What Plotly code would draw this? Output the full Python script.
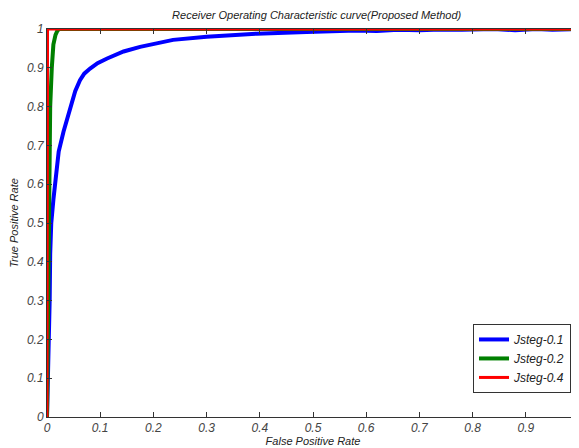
import plotly.graph_objects as go

# Jsteg-0.1 ROC (blue)
fpr_01 = [0.0, 0.002, 0.003, 0.005, 0.006, 0.008, 0.012, 0.016, 0.022, 0.031, 0.044,
          0.053, 0.062, 0.07, 0.081, 0.095, 0.113, 0.144, 0.175, 0.213, 0.237, 0.30, 0.394, 0.488,
          0.582, 0.62, 0.66, 0.70, 0.74, 0.78, 0.84, 0.88, 0.92, 0.95, 1.0]
tpr_01 = [0.0, 0.10, 0.17, 0.30, 0.42, 0.50, 0.56, 0.61, 0.684, 0.735, 0.796,
          0.84, 0.868, 0.885, 0.898, 0.912, 0.924, 0.942, 0.954, 0.965, 0.972, 0.980, 0.988, 0.992,
          0.996, 0.995, 0.998, 0.997, 0.999, 0.998, 1.0, 0.997, 1.0, 0.998, 1.0]

# Jsteg-0.2 ROC (green)
fpr_02 = [0.0, 0.002, 0.003, 0.004, 0.005, 0.006, 0.009, 0.012, 0.016, 0.020, 0.024, 1.0]
tpr_02 = [0.0, 0.30, 0.50, 0.62, 0.70, 0.80, 0.90, 0.96, 0.985, 0.997, 1.0, 1.0]

# Jsteg-0.4 ROC (red)
fpr_04 = [0.0, 0.0005, 0.001, 1.0]
tpr_04 = [0.0, 0.90, 1.0, 1.0]

tick_vals = [0, 0.1, 0.2, 0.3, 0.4, 0.5, 0.6, 0.7, 0.8, 0.9, 1]
tick_text = ["0", "0.1", "0.2", "0.3", "0.4", "0.5", "0.6", "0.7", "0.8", "0.9", "1"]

font_fam = "Liberation Sans, Arial, sans-serif"

fig = go.Figure()
fig.add_trace(go.Scatter(x=fpr_01, y=tpr_01, mode="lines", name="Jsteg-0.1",
                         line=dict(color="#0000ff", width=4)))
fig.add_trace(go.Scatter(x=fpr_02, y=tpr_02, mode="lines", name="Jsteg-0.2",
                         line=dict(color="#008000", width=4)))
fig.add_trace(go.Scatter(x=fpr_04, y=tpr_04, mode="lines", name="Jsteg-0.4",
                         line=dict(color="#ff0000", width=3)))

axis_common = dict(
    range=[0, 1], tickvals=tick_vals, ticktext=tick_text,
    ticks="inside", ticklen=5, tickcolor="#333333", tickwidth=1,
    showline=True, linecolor="#333333", linewidth=1, mirror="ticks",
    showgrid=False, zeroline=False, automargin=False,
    tickfont=dict(family=font_fam, size=12, color="#444444", style="italic"),
)

fig.update_layout(
    template="none",
    width=571, height=440,
    margin=dict(l=39, r=0, t=21, b=31),
    paper_bgcolor="white", plot_bgcolor="white",
    title=dict(text="Receiver Operating Characteristic curve(Proposed Method)",
               x=0.5406, xanchor="center", y=0.992, yanchor="top",
               font=dict(family=font_fam, size=11, color="#222222", style="italic")),
    xaxis=dict(**axis_common,
               title=dict(text="False Positive Rate", standoff=2,
                          font=dict(family=font_fam, size=11, color="#222222", style="italic"))),
    yaxis=dict(**axis_common,
               title=dict(text="True Positive Rate", standoff=6,
                          font=dict(family=font_fam, size=11, color="#222222", style="italic"))),
    legend=dict(x=0.985, xanchor="right", y=0.062, yanchor="bottom",
                bgcolor="white", bordercolor="#333333", borderwidth=1,
                font=dict(family=font_fam, size=12, color="#222222", style="italic"),
                tracegroupgap=0, itemwidth=30),
    showlegend=True,
)

fig.write_html("out.html")
